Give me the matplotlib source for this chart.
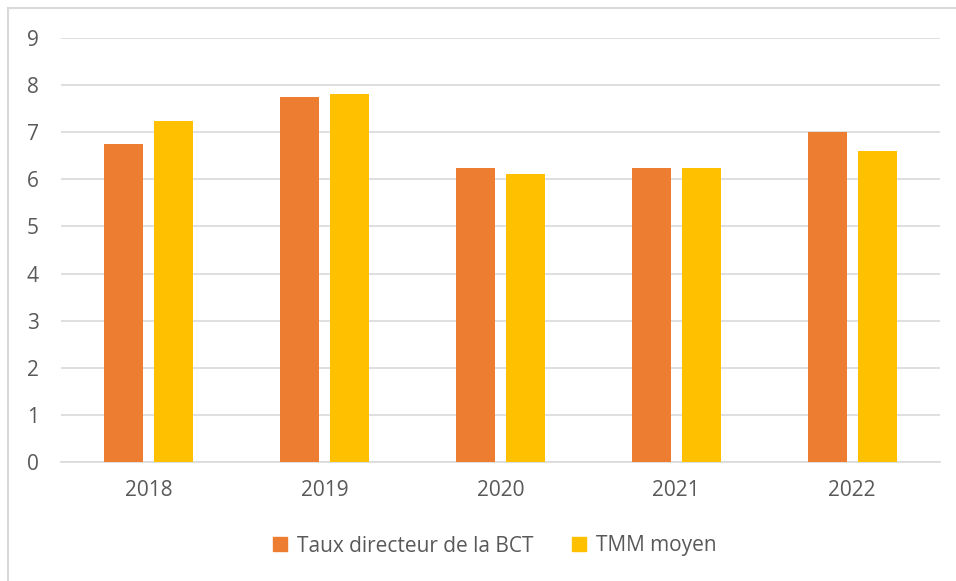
import numpy as np
import matplotlib
matplotlib.use("Agg")
from matplotlib import pyplot as plt
from matplotlib.lines import Line2D

years = ["2018", "2019", "2020", "2021", "2022"]
taux_bct = [6.75, 7.75, 6.25, 6.25, 7.0]
tmm_moyen = [7.24, 7.81, 6.12, 6.25, 6.60]
labels = ["Taux directeur de la BCT", "TMM moyen"]

orange = "#ED7D31"
gold = "#FFC000"
grey_txt = "#595959"

plt.rcParams['font.family'] = ['Open Sans', 'DejaVu Sans']

fig = plt.figure(figsize=(9.56, 5.81), dpi=100)
ax = fig.add_axes([61/956, 1 - 462/581, (940-61)/956, (462-38)/581])

x = np.arange(len(years))
w = 0.222
off = 0.142
ax.bar(x - off, taux_bct, w, color=orange, label=labels[0], zorder=3)
ax.bar(x + off, tmm_moyen, w, color=gold, label=labels[1], zorder=3)

ax.set_xlim(-0.5, len(years) - 0.5)
ax.set_ylim(0, 9)
ax.set_yticks(range(0, 10))
ax.set_xticks(x)
ax.set_xticklabels(years)
ax.yaxis.grid(True, color="#D9D9D9", linewidth=1.2, zorder=0)
ax.set_axisbelow(True)
for s in ["top", "right", "left"]:
    ax.spines[s].set_visible(False)
ax.spines["bottom"].set_color("#D9D9D9")
ax.spines["bottom"].set_linewidth(1.2)
ax.tick_params(axis="both", length=0, labelsize=15, colors=grey_txt)
ax.tick_params(axis="y", pad=16)
ax.tick_params(axis="x", pad=13)

handles = [Line2D([], [], marker="s", linestyle="", markersize=10, color=c) for c in (orange, gold)]
fig.legend(handles, labels, loc="center", bbox_to_anchor=(493/956, 1 - 546/581),
           ncol=2, frameon=False, fontsize=15, labelcolor=grey_txt,
           handletextpad=0.3, columnspacing=1.7, handlelength=1.0)

# light outer border (top and left visible)
fig.add_artist(Line2D([8/956, 1], [1 - 8/581, 1 - 8/581], transform=fig.transFigure,
                      color="#D9D9D9", linewidth=1.5))
fig.add_artist(Line2D([8/956, 8/956], [0, 1 - 8/581], transform=fig.transFigure,
                      color="#D9D9D9", linewidth=1.5))

fig.savefig("out.png", dpi=100)
